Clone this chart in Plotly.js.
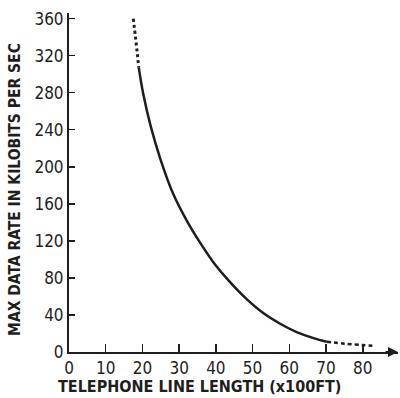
<!DOCTYPE html>
<html>
<head>
<meta charset="utf-8">
<script src="https://cdn.plot.ly/plotly-3.0.1.min.js"></script>
<style>html,body{margin:0;padding:0;background:#fff;}#chart{width:400px;height:398px;}</style>
</head>
<body>
<div id="chart"></div>
<script>
// Curve (x = line length in 100 ft, y = kbit/s)
const upperDashX = [17.5, 18.1, 18.6, 19.0];
const upperDashY = [360, 340, 322, 307];
const solidX = [19.0, 20.2, 22.3, 25.0, 28.4, 32.1, 35.7, 39.3, 43.5, 48.4, 52.9, 57.5, 62.0, 66.6, 70.2];
const solidY = [307, 279, 243, 207, 170.5, 141.6, 118, 97, 77, 57, 42, 30.5, 21.5, 15, 11];
const lowerDashX = [70.2, 75, 80, 83.4];
const lowerDashY = [11, 9, 7.5, 6.5];
const xTicks = [0, 10, 20, 30, 40, 50, 60, 70, 80];
const yTicks = [0, 40, 80, 120, 160, 200, 240, 280, 320, 360];
const xTitle = 'TELEPHONE LINE LENGTH (x100FT)';
const yTitle = 'MAX DATA RATE IN KILOBITS PER SEC';

const ink = '#1e1e1e';
const fam = 'DejaVu Sans Condensed, DejaVu Sans, sans-serif';
const tickFont = {family: fam, size: 17, color: ink};
const xTitleFont = {family: fam, size: 16, color: ink, weight: 'bold'};
const yTitleFont = {family: fam, size: 15.5, color: ink, weight: 'bold'};

const traces = [
  {x: upperDashX, y: upperDashY, mode: 'lines', line: {color: ink, width: 3, dash: 'dot', shape: 'spline'}, hoverinfo: 'skip'},
  {x: solidX, y: solidY, mode: 'lines', line: {color: ink, width: 2.5, shape: 'spline', smoothing: 1}, hoverinfo: 'skip'},
  {x: lowerDashX, y: lowerDashY, mode: 'lines', line: {color: ink, width: 2.5, dash: '4px,3px', shape: 'spline'}, hoverinfo: 'skip'}
];

const layout = {
  width: 400, height: 398,
  margin: {l: 69, r: 2, t: 13, b: 46},
  paper_bgcolor: '#fff', plot_bgcolor: '#fff',
  showlegend: false,
  xaxis: {
    range: [0, 89.6], tickvals: xTicks, ticktext: xTicks.map(String),
    ticks: 'inside', ticklen: 8, tickwidth: 1.5, tickcolor: ink,
    showline: true, linecolor: ink, linewidth: 2, showgrid: false, zeroline: false,
    tickfont: tickFont, fixedrange: true
  },
  yaxis: {
    range: [0, 366], tickvals: yTicks, ticktext: yTicks.map(String),
    ticks: 'inside', ticklen: 6, tickwidth: 1.5, tickcolor: ink,
    showline: true, linecolor: ink, linewidth: 2, showgrid: false, zeroline: false,
    tickfont: tickFont, fixedrange: true
  },
  annotations: [
    {x: 89.6, y: 0, xref: 'x', yref: 'y', ax: -14, ay: 0, showarrow: true, arrowhead: 2, arrowsize: 1, arrowwidth: 2, arrowcolor: ink, text: ''},
    {x: 0.398, y: -0.103, xref: 'paper', yref: 'paper', xanchor: 'center', yanchor: 'middle', showarrow: false, text: xTitle, font: xTitleFont},
    {x: -0.164, y: 0.478, xref: 'paper', yref: 'paper', xanchor: 'center', yanchor: 'middle', textangle: -90, showarrow: false, text: yTitle, font: yTitleFont}
  ]
};

Plotly.newPlot('chart', traces, layout, {staticPlot: true, displayModeBar: false});
</script>
</body>
</html>
